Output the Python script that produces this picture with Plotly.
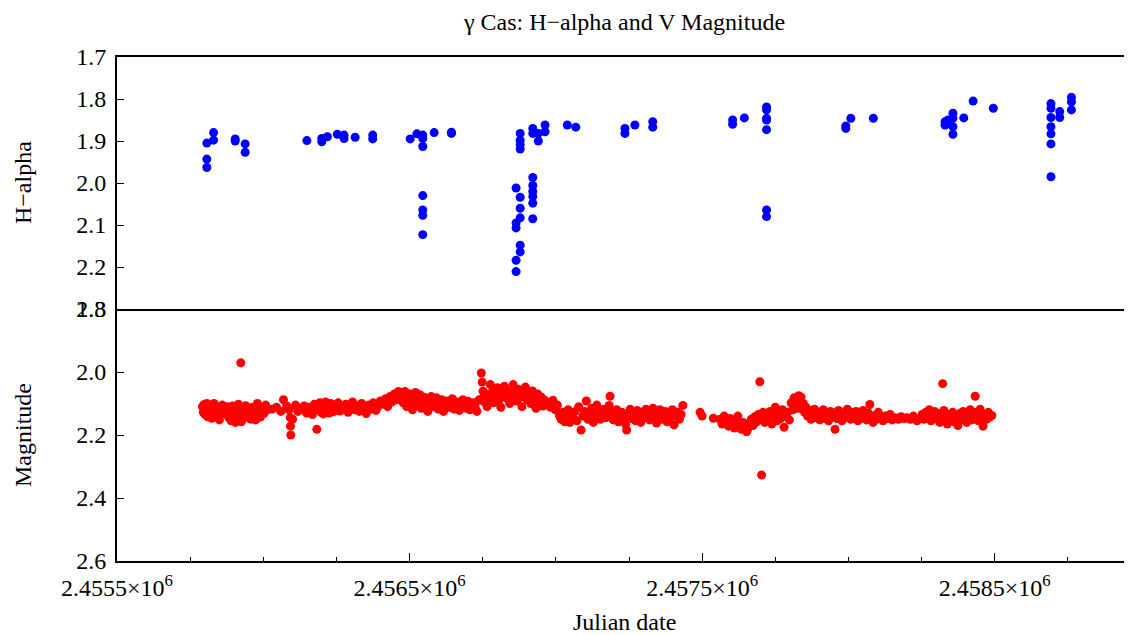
import plotly.graph_objects as go

# ---------------- H-alpha data (Julian date, value) ----------------
ha_jd = [2455807, 2455807, 2455807, 2455830, 2455830,
         2455904, 2455904, 2455938, 2455938,
         2456149, 2456200, 2456200, 2456219,
         2456253, 2456276, 2456276, 2456314, 2456374, 2456374,
         2456502, 2456525, 2456545, 2456545, 2456545, 2456545, 2456545, 2456545, 2456545,
         2456584, 2456643, 2456643,
         2456864, 2456864, 2456864, 2456864, 2456864,
         2456878, 2456878, 2456878, 2456878, 2456878, 2456878, 2456878, 2456878, 2456878,
         2456921, 2456921, 2456921, 2456921, 2456921, 2456921, 2456921, 2456921,
         2456940, 2456940, 2456963, 2456963,
         2457039, 2457068, 2457236, 2457236, 2457270, 2457331, 2457331,
         2457604, 2457604, 2457644,
         2457720, 2457720, 2457720, 2457720, 2457720, 2457720, 2457720,
         2457991, 2457991, 2458008, 2458085,
         2458330, 2458330, 2458340, 2458357, 2458357, 2458357, 2458357, 2458394,
         2458426, 2458495,
         2458692, 2458692, 2458692, 2458692, 2458692, 2458692, 2458692,
         2458722, 2458722, 2458762, 2458762, 2458762]
ha_val = [1.905, 1.943, 1.963, 1.880, 1.898,
          1.895, 1.900, 1.907, 1.927,
          1.899, 1.894, 1.902, 1.890,
          1.884, 1.886, 1.894, 1.891, 1.886, 1.895,
          1.895, 1.883, 1.886, 1.894, 1.913, 2.030, 2.064, 2.077, 2.123,
          1.880, 1.879, 1.882,
          2.012, 2.095, 2.107, 2.184, 2.211,
          1.882, 1.898, 1.909, 1.919, 2.034, 2.060, 2.083, 2.148, 2.164,
          1.870, 1.882, 1.987, 2.006, 2.020, 2.032, 2.048, 2.085,
          1.882, 1.900, 1.862, 1.878,
          1.862, 1.867, 1.870, 1.882, 1.862, 1.854, 1.867,
          1.850, 1.860, 1.845,
          1.819, 1.826, 1.846, 1.850, 1.873, 2.064, 2.080,
          1.864, 1.870, 1.846, 1.846,
          1.854, 1.862, 1.850, 1.834, 1.846, 1.866, 1.884, 1.845,
          1.805, 1.822,
          1.811, 1.822, 1.844, 1.866, 1.883, 1.907, 1.985,
          1.830, 1.844, 1.796, 1.807, 1.826]

# ---------------- V magnitude data (Julian date, value) ----------------
mag_jd = [
    2455792, 2455795, 2455798, 2455801, 2455804, 2455807, 2455810, 2455813, 2455816, 2455820,
    2455824, 2455828, 2455832, 2455836, 2455840, 2455845, 2455850, 2455855, 2455860, 2455866,
    2455872, 2455877, 2455882, 2455887, 2455890, 2455895, 2455900, 2455905, 2455910, 2455915,
    2455920, 2455923, 2455925, 2455930, 2455935, 2455940, 2455946, 2455952, 2455958, 2455963,
    2455968, 2455974, 2455980, 2455985, 2455990, 2455996, 2456002, 2456008, 2456014,
    2456030, 2456045, 2456060, 2456069, 2456080, 2456088, 2456092, 2456093, 2456094, 2456100,
    2456110, 2456118, 2456125, 2456132, 2456140, 2456148, 2456155, 2456162, 2456168, 2456175,
    2456183, 2456188, 2456193, 2456197, 2456201, 2456205, 2456209, 2456213, 2456217, 2456221,
    2456225, 2456230, 2456235, 2456240, 2456245, 2456250, 2456256, 2456262, 2456268, 2456275,
    2456282, 2456290, 2456297, 2456305, 2456312, 2456320, 2456328, 2456336, 2456344, 2456352,
    2456360, 2456368, 2456376, 2456385, 2456392, 2456400, 2456410, 2456418, 2456425, 2456433,
    2456440, 2456448, 2456455, 2456462, 2456468,
    2456472, 2456478, 2456484, 2456490, 2456495, 2456500, 2456505, 2456510, 2456515, 2456520,
    2456525, 2456530, 2456535, 2456540, 2456545, 2456550, 2456556, 2456562, 2456568, 2456574,
    2456580, 2456586, 2456592, 2456598, 2456604, 2456610, 2456616, 2456622, 2456628, 2456634,
    2456640, 2456646, 2456652, 2456658, 2456664, 2456670, 2456676, 2456682, 2456688, 2456694,
    2456700, 2456706, 2456712, 2456718, 2456724, 2456730, 2456736,
    2456741, 2456745, 2456748, 2456751, 2456755, 2456760, 2456765, 2456770, 2456776, 2456782,
    2456788, 2456794, 2456800, 2456806, 2456812, 2456818, 2456824, 2456830, 2456836, 2456842,
    2456848, 2456854, 2456860, 2456866, 2456872, 2456878, 2456884, 2456890, 2456896, 2456902,
    2456908, 2456914, 2456920, 2456926, 2456932, 2456938, 2456944, 2456950, 2456956, 2456962,
    2456968,
    2456975, 2456982, 2456990, 2456998, 2457005, 2457012, 2457018, 2457024, 2457030, 2457036,
    2457042, 2457048, 2457054, 2457060, 2457066, 2457072, 2457078, 2457086, 2457092, 2457098,
    2457104, 2457110, 2457116, 2457122, 2457128, 2457134, 2457140, 2457146, 2457152, 2457158,
    2457164, 2457170, 2457176, 2457182, 2457185, 2457190, 2457196, 2457202, 2457208, 2457214,
    2457220, 2457226, 2457232, 2457238, 2457242, 2457248, 2457254, 2457260, 2457266, 2457272,
    2457278, 2457284, 2457290, 2457296, 2457302, 2457308, 2457314, 2457320, 2457326, 2457332,
    2457338, 2457344, 2457350, 2457356, 2457362, 2457368, 2457374, 2457380, 2457386, 2457392,
    2457398, 2457404, 2457410, 2457416, 2457422, 2457428, 2457434,
    2457493, 2457500, 2457538,
    2457561, 2457568, 2457575, 2457582, 2457590, 2457596, 2457603, 2457610, 2457616, 2457622,
    2457628, 2457634, 2457640, 2457646, 2457652, 2457656, 2457662, 2457668, 2457674, 2457680,
    2457686, 2457692, 2457697, 2457700, 2457703, 2457708, 2457714, 2457720,
    2457726, 2457732, 2457738, 2457744, 2457750, 2457756, 2457762, 2457768, 2457774, 2457780,
    2457786, 2457792, 2457798, 2457804, 2457810, 2457814, 2457818, 2457822, 2457826, 2457830,
    2457834, 2457838, 2457842, 2457846, 2457850, 2457855, 2457860, 2457866, 2457872, 2457878,
    2457884, 2457890, 2457896, 2457902, 2457908, 2457914, 2457920, 2457926, 2457932, 2457938,
    2457944, 2457950, 2457954, 2457960, 2457966, 2457972, 2457978, 2457984, 2457990, 2457996,
    2458002, 2458008, 2458014, 2458020, 2458026, 2458032, 2458038, 2458044, 2458050, 2458056,
    2458062, 2458068, 2458073, 2458078, 2458084, 2458090, 2458096, 2458102, 2458110, 2458118,
    2458126, 2458134, 2458142, 2458150, 2458160, 2458170, 2458180, 2458190, 2458200, 2458212,
    2458222, 2458234, 2458244,
    2458252, 2458258, 2458264, 2458270, 2458276, 2458282, 2458288, 2458294, 2458300, 2458306,
    2458312, 2458318, 2458322, 2458326, 2458332, 2458338, 2458344, 2458350, 2458356, 2458362,
    2458368, 2458374, 2458380, 2458386, 2458392, 2458398, 2458404, 2458410, 2458416, 2458422,
    2458428, 2458433, 2458438, 2458444, 2458450, 2458456, 2458460, 2458466, 2458472, 2458478,
    2458484, 2458490]
mag_val = [
    2.110, 2.128, 2.103, 2.135, 2.118, 2.100, 2.142, 2.122, 2.108, 2.130,
    2.147, 2.115, 2.100, 2.125, 2.138, 2.112, 2.152, 2.120, 2.105, 2.132,
    2.118, 2.110, 2.145, 2.128, 2.155, 2.108, 2.135, 2.160, 2.122, 2.102,
    2.140, 1.971, 2.158, 2.118, 2.130, 2.107, 2.145, 2.125, 2.150, 2.112,
    2.138, 2.152, 2.100, 2.128, 2.143, 2.115, 2.132, 2.105, 2.120,
    2.118, 2.112, 2.125, 2.088, 2.108, 2.120, 2.145, 2.172, 2.200, 2.150,
    2.105, 2.125, 2.115, 2.118, 2.108, 2.130, 2.112, 2.122, 2.135, 2.102,
    2.182, 2.118, 2.098, 2.128, 2.105, 2.133, 2.112, 2.095, 2.122, 2.108,
    2.130, 2.100, 2.118, 2.126, 2.105, 2.115, 2.098, 2.124, 2.110, 2.118,
    2.102, 2.128, 2.112, 2.095, 2.120, 2.108, 2.125, 2.100, 2.115, 2.132,
    2.105, 2.118, 2.098, 2.122, 2.110, 2.092, 2.102, 2.085, 2.110, 2.078,
    2.095, 2.070, 2.088, 2.062, 2.080,
    2.075, 2.098, 2.062, 2.110, 2.085, 2.070, 2.095, 2.120, 2.080, 2.065,
    2.102, 2.088, 2.072, 2.115, 2.095, 2.080, 2.105, 2.125, 2.090, 2.078,
    2.110, 2.095, 2.082, 2.118, 2.100, 2.088, 2.125, 2.105, 2.092, 2.112,
    2.098, 2.085, 2.118, 2.105, 2.095, 2.122, 2.110, 2.088, 2.100, 2.115,
    2.093, 2.120, 2.105, 2.098, 2.112, 2.125, 2.090,
    2.087, 2.003, 2.032, 2.061, 2.095, 2.070, 2.110, 2.085, 2.040, 2.065,
    2.098, 2.075, 2.050, 2.088, 2.112, 2.068, 2.045, 2.082, 2.060, 2.100,
    2.078, 2.040, 2.065, 2.092, 2.055, 2.080, 2.110, 2.068, 2.048, 2.088,
    2.072, 2.100, 2.060, 2.085, 2.115, 2.070, 2.095, 2.080, 2.108, 2.090,
    2.100,
    2.098, 2.112, 2.090, 2.120, 2.105, 2.138, 2.150, 2.128, 2.158, 2.142,
    2.120, 2.160, 2.135, 2.148, 2.125, 2.155, 2.110, 2.184, 2.140, 2.125,
    2.092, 2.150, 2.132, 2.115, 2.160, 2.140, 2.105, 2.128, 2.150, 2.135,
    2.118, 2.145, 2.130, 2.106, 2.077, 2.125, 2.152, 2.138, 2.120, 2.158,
    2.142, 2.128, 2.150, 2.165, 2.184, 2.135, 2.118, 2.148, 2.130, 2.155,
    2.122, 2.140, 2.160, 2.128, 2.145, 2.118, 2.138, 2.152, 2.130, 2.115,
    2.145, 2.162, 2.135, 2.120, 2.150, 2.140, 2.125, 2.158, 2.132, 2.145,
    2.120, 2.168, 2.140, 2.128, 2.150, 2.135, 2.106,
    2.128, 2.140, 2.147,
    2.150, 2.165, 2.140, 2.158, 2.172, 2.148, 2.160, 2.178, 2.155, 2.140,
    2.168, 2.182, 2.160, 2.175, 2.190, 2.180, 2.165, 2.150, 2.170, 2.142,
    2.158, 2.135, 2.031, 2.150, 2.327, 2.128, 2.160, 2.140,
    2.150, 2.125, 2.165, 2.138, 2.112, 2.155, 2.130, 2.148, 2.120, 2.175,
    2.140, 2.128, 2.152, 2.098, 2.120, 2.082, 2.108, 2.090, 2.115, 2.075,
    2.095, 2.080, 2.118, 2.100, 2.128, 2.112, 2.140, 2.122, 2.150, 2.135,
    2.118, 2.145, 2.128, 2.152, 2.132, 2.120, 2.148, 2.135, 2.155, 2.125,
    2.142, 2.130, 2.182, 2.148, 2.122, 2.140, 2.155, 2.130, 2.145, 2.118,
    2.138, 2.150, 2.128, 2.142, 2.125, 2.155, 2.135, 2.148, 2.122, 2.140,
    2.152, 2.130, 2.103, 2.145, 2.160, 2.138, 2.150, 2.128, 2.142, 2.155,
    2.140, 2.148, 2.135, 2.152, 2.145, 2.150, 2.142, 2.148, 2.145, 2.150,
    2.140, 2.155, 2.148,
    2.135, 2.150, 2.128, 2.142, 2.120, 2.155, 2.138, 2.125, 2.148, 2.132,
    2.160, 2.140, 2.037, 2.122, 2.150, 2.165, 2.135, 2.145, 2.128, 2.158,
    2.140, 2.170, 2.132, 2.150, 2.125, 2.145, 2.160, 2.138, 2.120, 2.152,
    2.140, 2.077, 2.128, 2.155, 2.118, 2.145, 2.172, 2.135, 2.150, 2.128,
    2.142, 2.138]

x_tickvals = [2455500, 2456500, 2457500, 2458500]
x_ticktext = ["2.4555×10<sup>6</sup>", "2.4565×10<sup>6</sup>",
              "2.4575×10<sup>6</sup>", "2.4585×10<sup>6</sup>"]
ha_tickvals = [1.7, 1.8, 1.9, 2.0, 2.1, 2.2, 2.3]
mag_tickvals = [1.8, 2.0, 2.2, 2.4, 2.6]

FONT = "Liberation Serif"
TICKFONT = dict(family=FONT, size=24, color="black")
LABELFONT = dict(family=FONT, size=24, color="black")

# the page body adds an 8 px offset, so the figure is sized to end at the window edge
W, H = 1124, 627

fig = go.Figure()
fig.add_trace(go.Scatter(x=ha_jd, y=ha_val, mode="markers", xaxis="x2", yaxis="y2",
                         marker=dict(color="#0000FF", size=9, line=dict(width=0)),
                         showlegend=False))
fig.add_trace(go.Scatter(x=mag_jd, y=mag_val, mode="markers", xaxis="x", yaxis="y",
                         marker=dict(color="#FF0000", size=9, line=dict(width=0)),
                         showlegend=False))

xrange_ = [2455500, 2458969]
fig.update_layout(
    width=W, height=H,
    margin=dict(l=109, r=0, t=49, b=74, autoexpand=False),
    paper_bgcolor="white", plot_bgcolor="white",
    font=dict(family=FONT, color="black"),
    title=dict(text="γ Cas: H−alpha and V Magnitude", x=0.5, xref="paper",
               y=1 - 14 / H, yanchor="middle", xanchor="center",
               font=LABELFONT),
    xaxis=dict(domain=[0, 1], anchor="y", range=xrange_, tickmode="array",
               tickvals=x_tickvals, ticktext=x_ticktext, ticks="inside", ticklen=8,
               tickwidth=1, tickcolor="black", showline=True, linecolor="black",
               linewidth=2, showgrid=False, zeroline=False, tickfont=TICKFONT,
               automargin=False, ticklabelstandoff=4,
               minor=dict(tickmode="linear", tick0=2455500, dtick=250, ticks="inside",
                          ticklen=4, tickwidth=1, tickcolor="black", showgrid=False)),
    xaxis2=dict(domain=[0, 1], anchor="y2", matches="x", range=xrange_,
                showticklabels=False, ticks="", showline=True, mirror=True,
                linecolor="black", linewidth=2, showgrid=False, zeroline=False,
                automargin=False),
    yaxis=dict(domain=[0, 0.5], anchor="x", range=[2.6, 1.8], tickmode="array",
               tickvals=mag_tickvals, tickformat=".1f", ticks="inside", ticklen=7,
               tickcolor="black", showline=True, linecolor="black", linewidth=2,
               showgrid=False, zeroline=False, tickfont=TICKFONT,
               automargin=False, ticklabelstandoff=4),
    yaxis2=dict(domain=[0.5, 1], anchor="x2", range=[2.3, 1.7], tickmode="array",
                tickvals=ha_tickvals, tickformat=".1f", ticks="inside", ticklen=7,
                tickcolor="black", showline=True, linecolor="black", linewidth=2,
                showgrid=False, zeroline=False, tickfont=TICKFONT,
                automargin=False, ticklabelstandoff=4),
)

fig.add_annotation(text="H−alpha", xref="paper", yref="paper", x=0, y=0.75,
                   xanchor="center", yanchor="middle", xshift=-94, textangle=-90,
                   showarrow=False, font=LABELFONT)
fig.add_annotation(text="Magnitude", xref="paper", yref="paper", x=0, y=0.25,
                   xanchor="center", yanchor="middle", xshift=-94, textangle=-90,
                   showarrow=False, font=LABELFONT)
fig.add_annotation(text="Julian date", xref="paper", yref="paper", x=0.5, y=0,
                   xanchor="center", yanchor="middle", yshift=-61,
                   showarrow=False, font=LABELFONT)

fig.write_html("out.html")
